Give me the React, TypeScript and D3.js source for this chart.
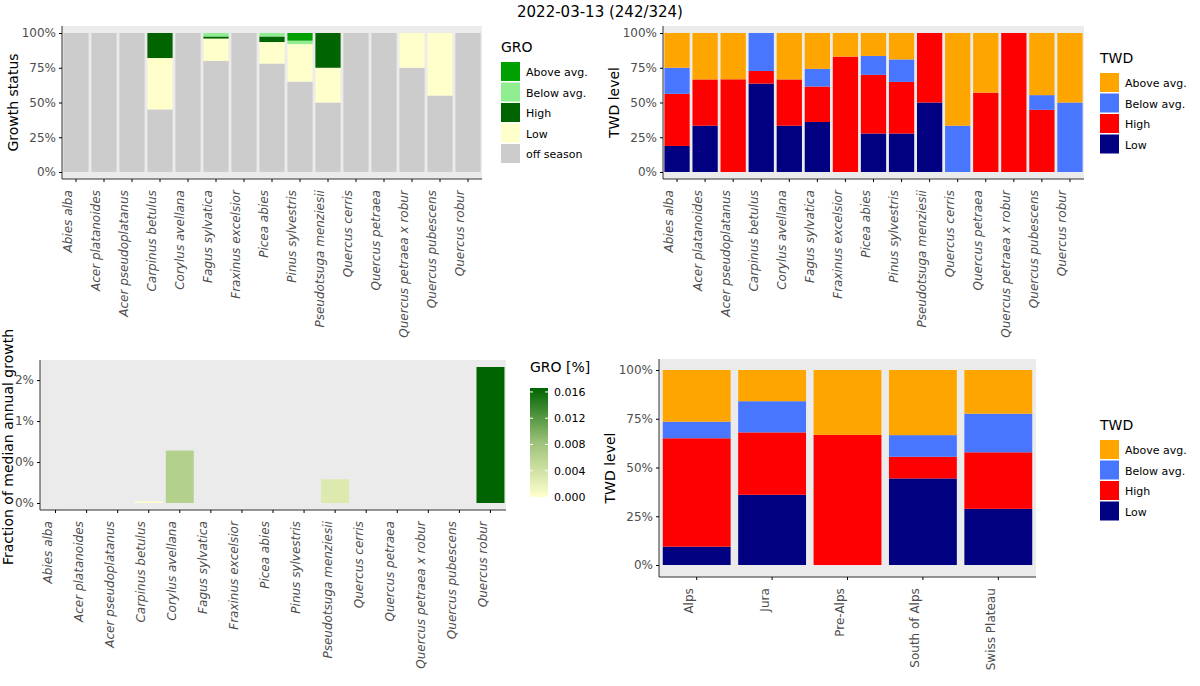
import React, { useEffect, useRef } from 'react';
import * as d3 from 'd3';

const species = ['Abies alba', 'Acer platanoides', 'Acer pseudoplatanus', 'Carpinus betulus', 'Corylus avellana', 'Fagus sylvatica', 'Fraxinus excelsior', 'Picea abies', 'Pinus sylvestris', 'Pseudotsuga menziesii', 'Quercus cerris', 'Quercus petraea', 'Quercus petraea x robur', 'Quercus pubescens', 'Quercus robur'];
const regions = ['Alps', 'Jura', 'Pre-Alps', 'South of Alps', 'Swiss Plateau'];

// GRO status shares (%), stacked bottom-up: off season, Low, High, Below avg., Above avg.
const groOff = [100, 100, 100, 45, 100, 80, 100, 78, 65, 50, 100, 100, 75, 55, 100];
const groLow = [0, 0, 0, 37, 0, 16, 0, 15.5, 27, 25, 0, 0, 25, 45, 0];
const groHigh = [0, 0, 0, 18, 0, 1.5, 0, 4, 0, 25, 0, 0, 0, 0, 0];
const groBelow = [0, 0, 0, 0, 0, 2.5, 0, 2.5, 2.5, 0, 0, 0, 0, 0, 0];
const groAbove = [0, 0, 0, 0, 0, 0, 0, 0, 5.5, 0, 0, 0, 0, 0, 0];

// TWD shares per species (%), bottom-up: Low, High, Below, Above
const twdLow = [18.75, 33.3, 0, 63.6, 33.3, 36, 0, 27.7, 27.7, 50, 0, 0, 0, 0, 0];
const twdHigh = [37.5, 33.3, 66.7, 9.1, 33.3, 25.5, 83, 42.2, 37.1, 50, 0, 57.1, 100, 44.7, 0];
const twdBelow = [18.75, 0, 0, 27.3, 0, 12.7, 0, 13.6, 16.2, 0, 33.3, 0, 0, 10.6, 50];
const twdAbove = [25, 33.4, 33.3, 0, 33.4, 25.8, 17, 16.5, 19, 0, 66.7, 42.9, 0, 44.7, 50];

// TWD shares per region (%)
const regLow = [9.4, 36, 0, 44.4, 28.8];
const regHigh = [55.6, 32, 66.7, 11.1, 29];
const regBelow = [8.5, 16, 0, 11.1, 19.8];
const regAbove = [26.5, 16, 33.3, 33.4, 22.4];

// fraction of median annual growth
const growth = [0, 0, 0, 0.0002, 0.0064, 0, 0, 0, 0, 0.0029, 0, 0, 0, 0, 0.0166];

const yTicks = [0, 25, 50, 75, 100];
const growthTicks = [0, 0.005, 0.01, 0.015];
const growthTickLabels = ['0%', '0%', '1%', '2%'];
const legendTicks = [0, 0.004, 0.008, 0.012, 0.016];

const groKeys = ['off season', 'Low', 'High', 'Below avg.', 'Above avg.'];
const groColors: Record<string, string> = { 'off season': '#cccccc', Low: '#ffffcc', High: '#006400', 'Below avg.': '#90ee90', 'Above avg.': '#00a000' };
const twdKeys = ['Low', 'High', 'Below avg.', 'Above avg.'];
const twdColors: Record<string, string> = { Low: '#000080', High: '#ff0000', 'Below avg.': '#4876ff', 'Above avg.': '#ffa500' };

const FONT = 'DejaVu Sans, sans-serif';

type G = d3.Selection<SVGGElement, unknown, null, undefined>;
type Box = { x: number; y: number; w: number; h: number; pt: number; pb: number };

function stackedPanel(svg: d3.Selection<SVGSVGElement, unknown, null, undefined>, cats: string[], series: number[][], keys: string[], colors: Record<string, string>, box: Box, ylabel: string, italic: boolean) {
  const g: G = svg.append('g').attr('transform', `translate(${box.x},${box.y})`);
  g.append('rect').attr('width', box.w).attr('height', box.h).attr('fill', '#ebebeb');
  const x = d3.scaleBand().domain(cats).range([0, box.w]).paddingInner(0.1).paddingOuter(0.05);
  const y = d3.scaleLinear().domain([0, 100]).range([box.h - box.pb, box.pt]);
  cats.forEach((c, i) => {
    let acc = 0;
    keys.forEach((k, j) => {
      const v = series[j][i];
      if (v <= 0) return;
      g.append('rect').attr('x', x(c)!).attr('width', x.bandwidth())
        .attr('y', y(acc + v)).attr('height', y(acc) - y(acc + v)).attr('fill', colors[k]);
      acc += v;
    });
  });
  axes(g, x, y, yTicks, yTicks.map(t => t + '%'), box, italic);
  g.append('text').attr('transform', `translate(${-44},${box.h / 2}) rotate(-90)`).attr('text-anchor', 'middle')
    .style('font-size', '14px').style('font-family', FONT).text(ylabel);
}

function axes(g: G, x: d3.ScaleBand<string>, y: d3.ScaleLinear<number, number>, ticks: number[], labels: string[], box: Box, italic: boolean) {
  const yAx = g.append('g').call(d3.axisLeft(y).tickValues(ticks).tickFormat((_, i) => labels[i]).tickSize(3).tickPadding(3));
  yAx.select('.domain').attr('d', `M0,0V${box.h}`).attr('stroke', '#333');
  yAx.selectAll('text').style('font-size', '12px').style('font-family', FONT).attr('fill', '#4d4d4d');
  const xAx = g.append('g').attr('transform', `translate(0,${box.h})`).call(d3.axisBottom(x).tickSize(3).tickPadding(4));
  xAx.select('.domain').attr('d', `M0,0H${box.w}`).attr('stroke', '#333');
  xAx.selectAll('text').attr('transform', 'rotate(-90)').attr('text-anchor', 'end').attr('dx', '-0.6em').attr('dy', '-0.3em').attr('y', 0).attr('x', -4)
    .style('font-size', '12px').style('font-family', FONT).style('font-style', italic ? 'italic' : 'normal').attr('fill', '#4d4d4d');
}

function legend(svg: d3.Selection<SVGSVGElement, unknown, null, undefined>, title: string, keys: string[], colors: Record<string, string>, x: number, y: number) {
  const g = svg.append('g').attr('transform', `translate(${x},${y})`);
  g.append('text').attr('y', 0).style('font-size', '14px').style('font-family', FONT).text(title);
  keys.forEach((k, i) => {
    g.append('rect').attr('y', 10 + i * 20.5).attr('width', 19).attr('height', 19).attr('fill', colors[k]);
    g.append('text').attr('x', 25).attr('y', 24 + i * 20.5).style('font-size', '11px').style('font-family', FONT).text(k);
  });
}

const App: React.FC = () => {
  const ref = useRef<SVGSVGElement>(null);
  useEffect(() => {
    const svg = d3.select(ref.current!);
    svg.selectAll('*').remove();
    svg.append('rect').attr('width', 1200).attr('height', 686).attr('fill', '#fff');
    svg.append('text').attr('x', 600).attr('y', 17).attr('text-anchor', 'middle').style('font-size', '15px').style('font-family', FONT).text('2022-03-13 (242/324)');

    stackedPanel(svg, species, [groOff, groLow, groHigh, groBelow, groAbove], groKeys, groColors, { x: 62, y: 26, w: 420, h: 153, pt: 7, pb: 7 }, 'Growth status', true);
    legend(svg, 'GRO', groKeys.slice().reverse(), groColors, 501, 52);

    stackedPanel(svg, species, [twdLow, twdHigh, twdBelow, twdAbove], twdKeys, twdColors, { x: 663, y: 26, w: 421, h: 153, pt: 7, pb: 7 }, 'TWD level', true);
    legend(svg, 'TWD', twdKeys.slice().reverse(), twdColors, 1100, 63);

    stackedPanel(svg, regions, [regLow, regHigh, regBelow, regAbove], twdKeys, twdColors, { x: 659, y: 359, w: 377, h: 218, pt: 11, pb: 12 }, 'TWD level', false);
    legend(svg, 'TWD', twdKeys.slice().reverse(), twdColors, 1100, 430);

    // growth panel
    const box: Box = { x: 40, y: 360, w: 466, h: 150, pt: 7, pb: 7 };
    const g: G = svg.append('g').attr('transform', `translate(${box.x},${box.y})`);
    g.append('rect').attr('width', box.w).attr('height', box.h).attr('fill', '#ebebeb');
    const x = d3.scaleBand().domain(species).range([0, box.w]).paddingInner(0.1).paddingOuter(0.05);
    const maxG = d3.max(growth)!;
    const y = d3.scaleLinear().domain([0, maxG]).range([box.h - 7, 7]);
    const color = d3.scaleLinear<string>().domain([0, maxG / 2, maxG]).range(['#ffffcc', '#9dc27a', '#006400']);
    species.forEach((s, i) => {
      if (growth[i] <= 0) return;
      g.append('rect').attr('x', x(s)!).attr('width', x.bandwidth()).attr('y', y(growth[i]))
        .attr('height', y(0) - y(growth[i])).attr('fill', color(growth[i]));
    });
    axes(g, x, y, growthTicks, growthTickLabels, box, true);
    g.append('text').attr('transform', `translate(${-27},${box.h / 2 + 12}) rotate(-90)`).attr('text-anchor', 'middle')
      .style('font-size', '14px').style('font-family', FONT).text('Fraction of median annual growth');

    // colorbar
    const lg = svg.append('g').attr('transform', 'translate(530,372)');
    lg.append('text').attr('y', 0).style('font-size', '14px').style('font-family', FONT).text('GRO [%]');
    const defs = svg.append('defs');
    const grad = defs.append('linearGradient').attr('id', 'gro-grad').attr('x1', '0').attr('x2', '0').attr('y1', '1').attr('y2', '0');
    [0, 0.5, 1].forEach(o => grad.append('stop').attr('offset', o).attr('stop-color', color(o * maxG)));
    const ly = d3.scaleLinear().domain([0, maxG]).range([125, 16]);
    lg.append('rect').attr('x', 0).attr('y', 16).attr('width', 18).attr('height', 109).attr('fill', 'url(#gro-grad)');
    legendTicks.forEach(t => {
      lg.append('line').attr('x1', 0).attr('x2', 3).attr('y1', ly(t)).attr('y2', ly(t)).attr('stroke', '#fff');
      lg.append('line').attr('x1', 15).attr('x2', 18).attr('y1', ly(t)).attr('y2', ly(t)).attr('stroke', '#fff');
      lg.append('text').attr('x', 24).attr('y', ly(t) + 4).style('font-size', '11px').style('font-family', FONT).text(t.toFixed(3));
    });
  }, []);
  return <svg ref={ref} width={1200} height={686} style={{ position: 'absolute', left: 0, top: 0, display: 'block' }} />;
};

export default App;
